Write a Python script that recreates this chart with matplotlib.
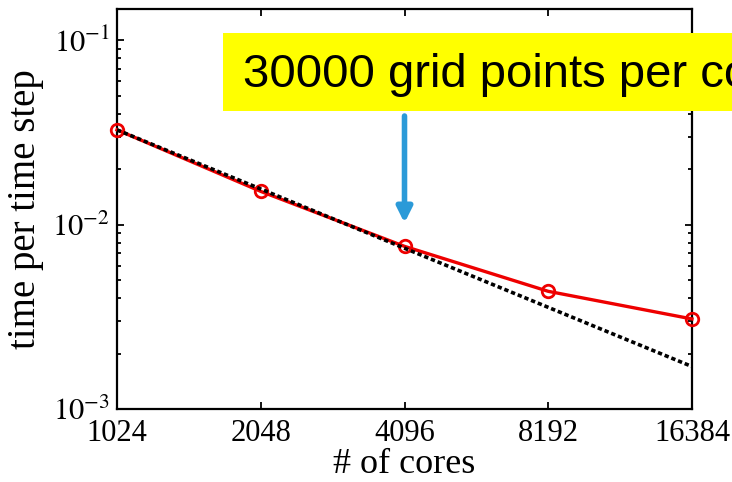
import matplotlib
matplotlib.use("Agg")
import matplotlib.pyplot as plt
from matplotlib.patches import Rectangle
from matplotlib.ticker import FixedLocator, FixedFormatter, LogLocator, NullFormatter

# Strong-scaling data
cores = [1024, 2048, 4096, 8192, 16384]
time_per_step = [0.0327, 0.01516, 0.00763, 0.00435, 0.00308]

# Reference trend line (endpoints on the log-log axes)
trend_cores = [1024, 16384]
trend_time = [0.0327, 0.0017]

x_tick_labels = ["1024", "2048", "4096", "8192", "16384"]
y_ticks = [1e-3, 1e-2, 1e-1]
y_tick_labels = [r"$10^{-3}$", r"$10^{-2}$", r"$10^{-1}$"]

note_text = "30000 grid points per core"

plt.rcParams["mathtext.fontset"] = "stix"
serif = "Liberation Serif"

W, H = 732, 482
fig = plt.figure(figsize=(W / 100, H / 100), dpi=100)
ax = fig.add_axes([117 / W, (H - 409) / H, 575 / W, 400 / H])

ax.set_xscale("log", base=2)
ax.set_yscale("log")
ax.set_xlim(1024, 16384)
ax.set_ylim(1e-3, 0.148)

ax.plot(cores, time_per_step, color="#ee0000", lw=2.4, marker="o", ms=9,
        mfc="none", mew=2.0, clip_on=False, zorder=3)
ax.plot(trend_cores, trend_time, color="black", lw=2.6, ls=(0, (1.2, 0.8)),
        zorder=4)

ax.xaxis.set_major_locator(FixedLocator(cores))
ax.xaxis.set_major_formatter(FixedFormatter(x_tick_labels))
ax.xaxis.set_minor_locator(FixedLocator([]))
ax.yaxis.set_major_locator(FixedLocator(y_ticks))
ax.yaxis.set_major_formatter(FixedFormatter(y_tick_labels))
ax.yaxis.set_minor_locator(LogLocator(base=10, subs=range(2, 10)))
ax.yaxis.set_minor_formatter(NullFormatter())

ax.tick_params(which="both", direction="in", top=True, right=True,
               width=1.3, colors="black")
ax.tick_params(which="major", length=5, labelsize=22)
ax.tick_params(axis="x", which="major", pad=7)
ax.tick_params(axis="y", which="major", pad=5)
ax.tick_params(which="minor", length=3)
for lab in ax.get_xticklabels() + ax.get_yticklabels():
    lab.set_fontfamily(serif)

for s in ax.spines.values():
    s.set_linewidth(1.6)

ax.set_xlabel("# of cores", fontsize=26, fontfamily=serif, labelpad=0)
ax.set_ylabel("time per time step", fontsize=28, fontfamily=serif, labelpad=6)

# Highlighted note above the plot, running past the right edge
fig.patches.append(Rectangle((223 / W, (H - 111) / H), (W + 20 - 223) / W,
                             78 / H, transform=fig.transFigure,
                             facecolor="#ffff00", edgecolor="none", zorder=5))
fig.text(243 / W, (H - 75) / H, note_text, fontsize=34,
         fontfamily="Liberation Sans", va="center", ha="left", zorder=6)

# Arrow pointing to the 4096-core run
ax.annotate("", xy=(4096, (409 - 223) / 400), xycoords=("data", "axes fraction"),
            xytext=(4096, (409 - 116) / 400), textcoords=("data", "axes fraction"),
            arrowprops=dict(arrowstyle="-|>,head_length=0.9,head_width=0.45",
                            color="#2b9ad8", lw=4.0, shrinkA=0, shrinkB=0),
            zorder=6)

fig.savefig("out.png", dpi=100)
